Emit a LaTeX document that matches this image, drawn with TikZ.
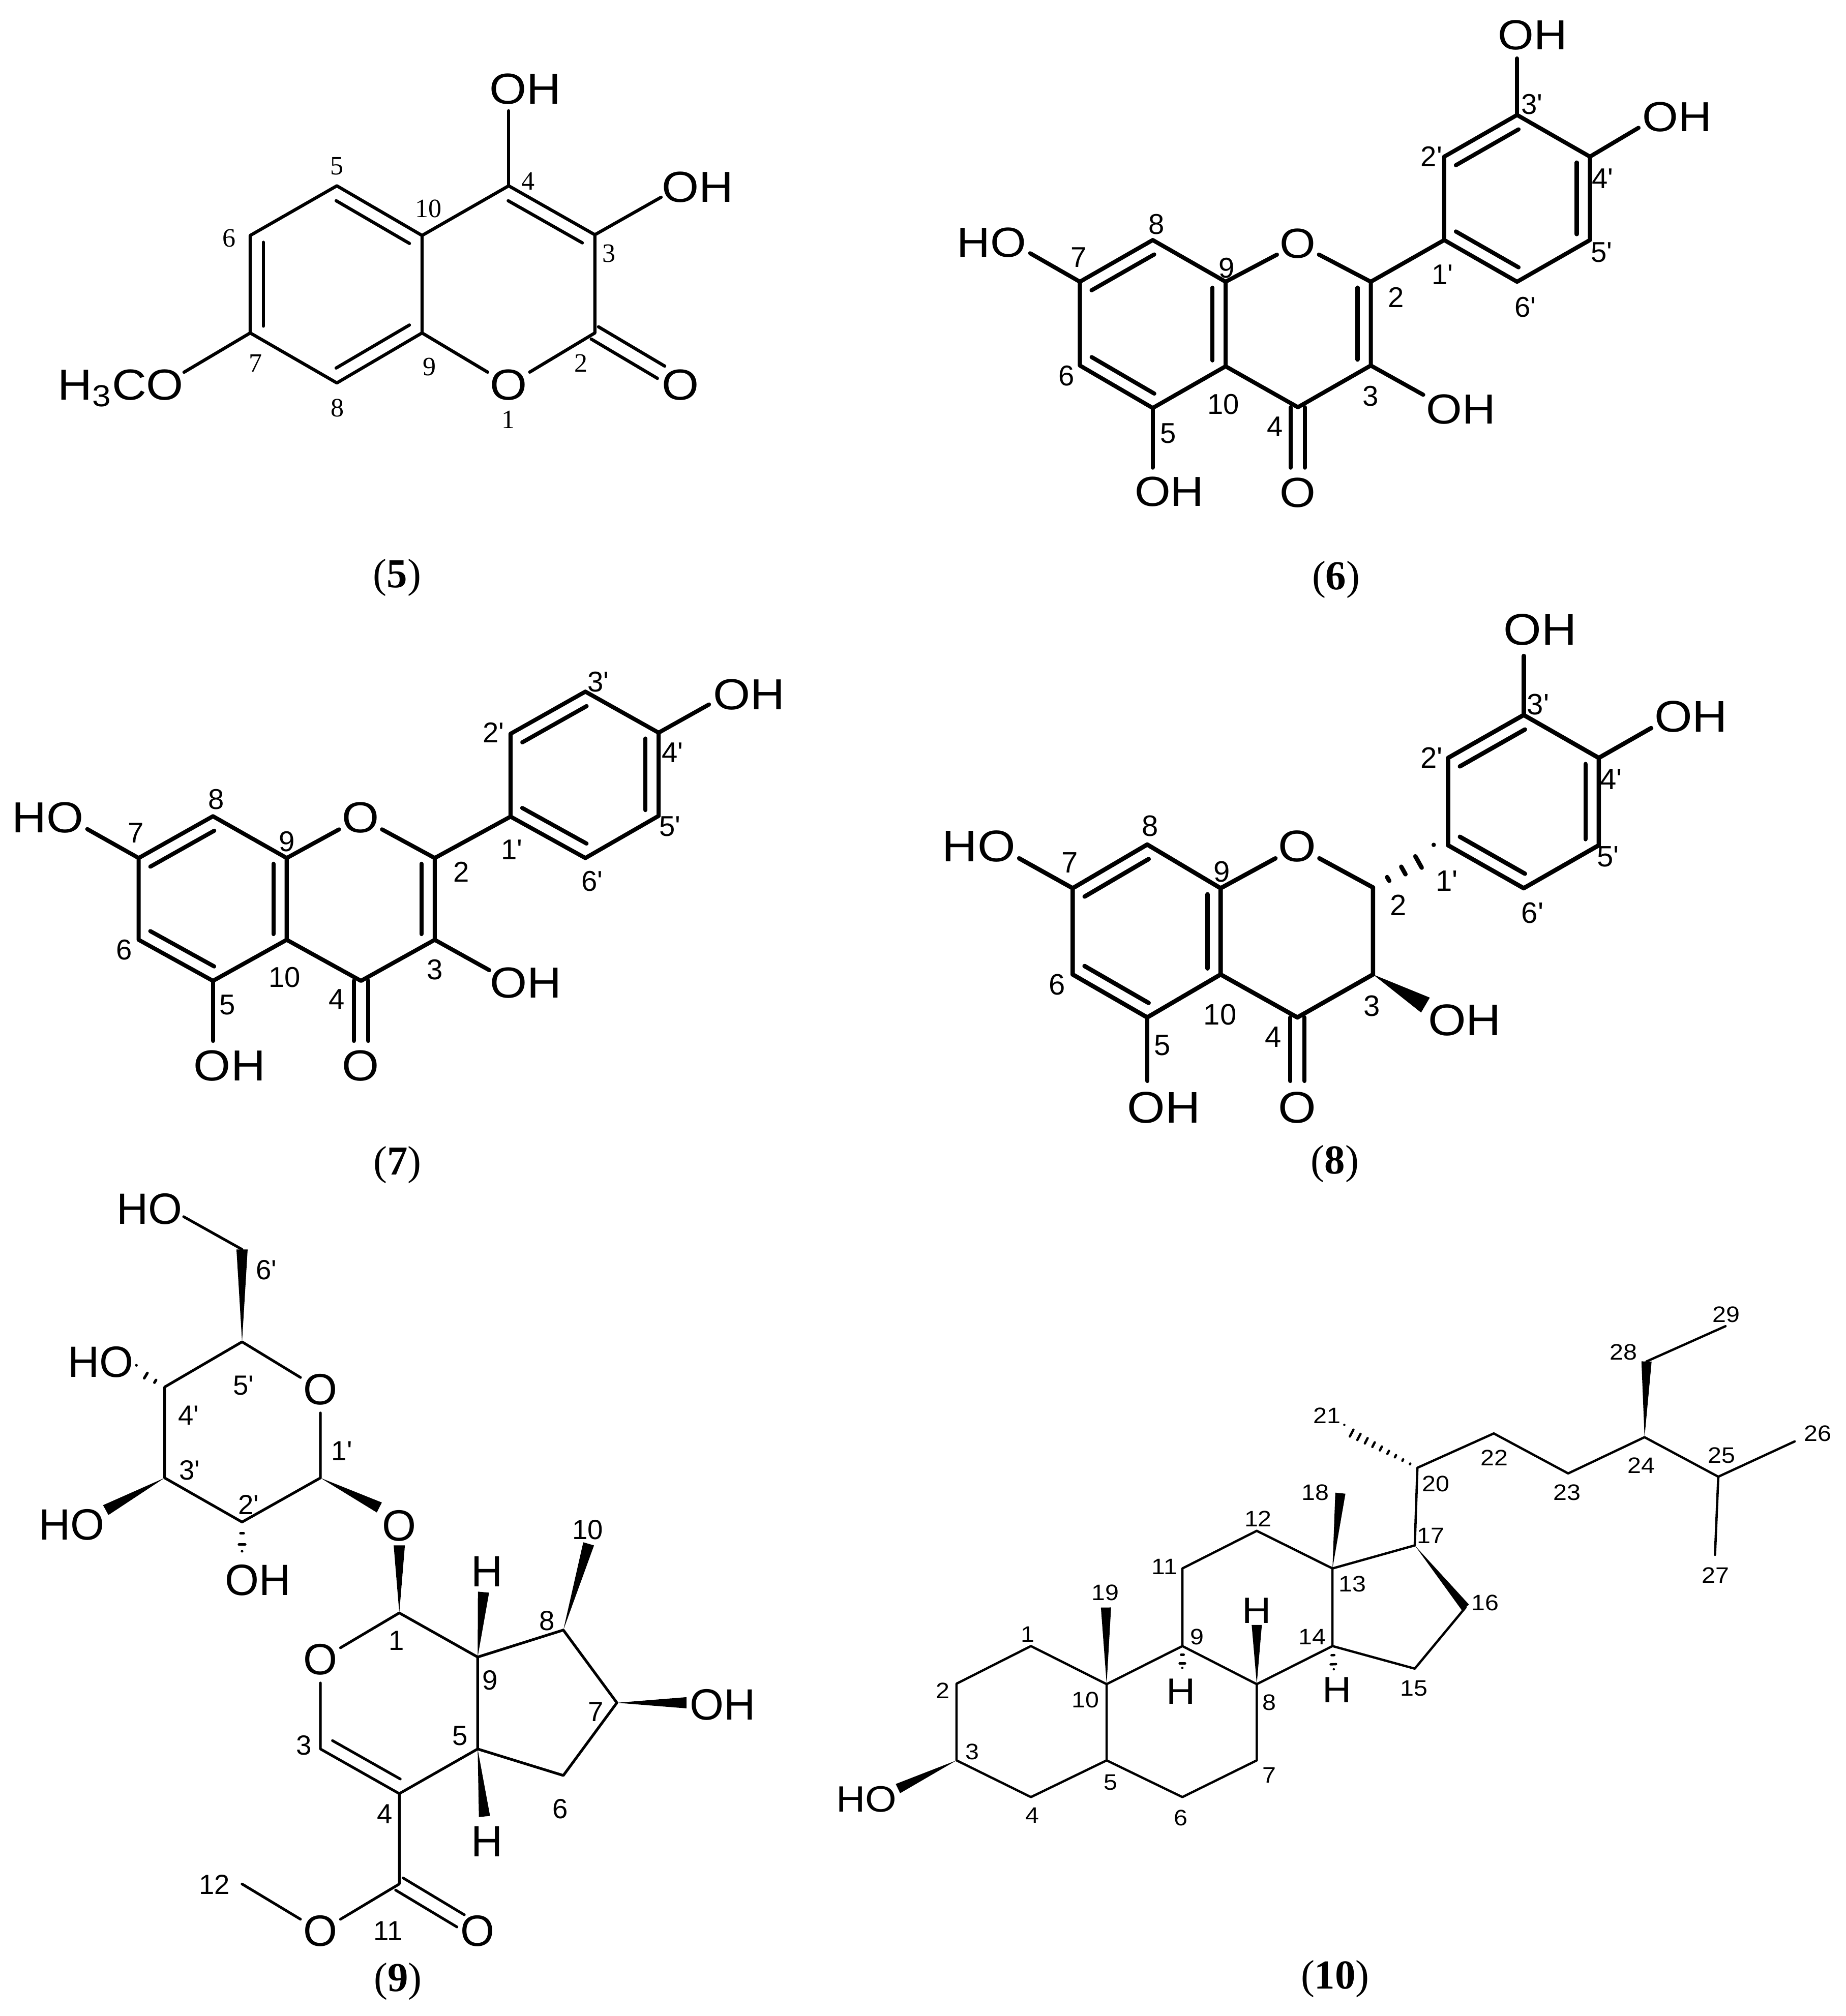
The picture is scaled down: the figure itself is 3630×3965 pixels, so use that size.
\documentclass[tikz,border=0pt]{standalone}
\usepackage{fontspec}
\usetikzlibrary{calc}
\newfontfamily\labelfont{Liberation Sans}
\newfontfamily\widefont[FakeStretch=1.1]{Liberation Sans}
\newfontfamily\capfont{Liberation Serif}
\tikzset{
    bond/.style={line width=2.3pt, line cap=round, line join=round, draw=black},
    atomtxt/.style={inner sep=0pt, font=\widefont\fontsize{24.3}{24.3}\selectfont},
    ringO/.style={atomtxt, circle},
    num/.style={inner sep=0pt, font=\labelfont\fontsize{16}{16}\selectfont},
    captxt/.style={inner sep=0pt, font=\capfont\fontsize{23}{23}\selectfont},
}
% second line of a double bond, on the left of the way from #1 to #2
\newcommand{\innerbond}[2]{\draw[bond] ($(#1)!0.07!(#2)!0.26cm!90:(#2)$) -- ($(#2)!0.07!(#1)!0.26cm!-90:(#1)$);}
% free standing double bond, centred on the way from #1 to #2
\newcommand{\dblbond}[2]{
    \draw[bond] ($(#1)!0.14cm!90:(#2)$) -- ($(#2)!0.14cm!-90:(#1)$);
    \draw[bond] ($(#1)!0.14cm!-90:(#2)$) -- ($(#2)!0.14cm!90:(#1)$);
}
\newcommand{\wedgebond}[3][0.11cm]{\fill ($(#3)!#1!90:(#2)$) -- (#2) -- ($(#3)!#1!-90:(#2)$) -- cycle;}
\newcommand{\hashbond}[4][0.13cm]{
    \foreach \k in {1,...,#4} {
        \pgfmathsetmacro{\hfrac}{\k/#4}
        \draw[bond] ($(#2)!\hfrac!(#3)!\hfrac*#1!90:(#3)$) -- ($(#2)!\hfrac!(#3)!\hfrac*#1!-90:(#3)$);
    }
}
\begin{document}
\begin{tikzpicture}[x=0.01cm, y=-0.01cm]
    \useasboundingbox (0,0) rectangle (3630,3965);

    % coumarin
    \begin{scope}[shift={(0,100)}, x=0.009566cm, y=-0.007015cm, name prefix=five-,
        bond/.append style={line width=1.8pt},
        num/.append style={font=\capfont\fontsize{14.8}{14.8}\selectfont}]
        \coordinate (a2) at (1222,790); \coordinate (a3) at (1222,515); \coordinate (a4) at (1045,378);
        \coordinate (a5) at (692,378); \coordinate (a6) at (514,517); \coordinate (a7) at (514,790);
        \coordinate (a8) at (692,930); \coordinate (a9) at (867,790); \coordinate (a10) at (867,517);
        \coordinate (e3) at (1358,410); \coordinate (e4) at (1045,168); \coordinate (e7) at (378,900);
        \coordinate (c2) at (1358,900);
        \node[ringO] (o1) at (1045,935) {O};
        \node[atomtxt] (oh3) at (1433,382) {OH};
        \node[atomtxt] (oh4) at (1079,107) {OH};
        \node[atomtxt] (ome) at (248,945) {H\textsubscript{3}CO};
        \node[atomtxt] (o2) at (1398,935) {O};

        \draw[bond] (a9) -- (o1) -- (a2) -- (a3) -- (a4) -- (a10) -- (a9) -- (a8) -- (a7) -- (a6) -- (a5) -- (a10);
        \draw[bond] (a4) -- (e4);
        \draw[bond] (a3) -- (e3);
        \draw[bond] (a7) -- (e7);
        \dblbond{a2}{c2}
        \innerbond{a6}{a7}
        \innerbond{a8}{a9}
        \innerbond{a10}{a5}
        \innerbond{a3}{a4}

        \node[num] (l1) at (1044,1033) {1};
        \node[num] (l2) at (1194,875) {2};
        \node[num] (l3) at (1251,568) {3};
        \node[num] (l4) at (1085,365) {4};
        \node[num] (l5) at (692,323) {5};
        \node[num] (l6) at (471,525) {6};
        \node[num] (l7) at (525,875) {7};
        \node[num] (l8) at (693,1000) {8};
        \node[num] (l9) at (882,885) {9};
        \node[num] (l10) at (880,442) {10};
        \node[captxt] (cap) at (816,1475) {(\textbf{5})};
    \end{scope}

    % quercetin
    \begin{scope}[shift={(1800,0)}, x=0.010842cm, y=-0.007653cm, name prefix=six-,
        atomtxt/.append style={font=\widefont\fontsize{23.5}{23.5}\selectfont}]
        \coordinate (a2) at (825,723); \coordinate (a3) at (825,938); \coordinate (a4) at (693,1045);
        \coordinate (a5) at (430,1047); \coordinate (a6) at (298,938); \coordinate (a7) at (298,723);
        \coordinate (a8) at (430,616); \coordinate (a9) at (562,723); \coordinate (a10) at (562,940);
        \coordinate (p1) at (958,616); \coordinate (p2) at (958,402); \coordinate (p3) at (1090,295);
        \coordinate (p4) at (1222,402); \coordinate (p5) at (1222,616); \coordinate (p6) at (1090,723);
        \coordinate (e3) at (920,1013); \coordinate (e5) at (430,1200); \coordinate (e7) at (208,650);
        \coordinate (ep3) at (1090,150); \coordinate (ep4) at (1310,328); \coordinate (c4) at (693,1200);
        \node[ringO] (o1) at (693,625) {O};
        \node[atomtxt] (ho7) at (138,622) {HO};
        \node[atomtxt] (oh5) at (460,1262) {OH};
        \node[atomtxt] (o4) at (693,1265) {O};
        \node[atomtxt] (oh3) at (988,1050) {OH};
        \node[atomtxt] (ohp3) at (1118,90) {OH};
        \node[atomtxt] (ohp4) at (1380,300) {OH};

        \draw[bond] (a9) -- (o1) -- (a2) -- (a3) -- (a4) -- (a10) -- (a9) -- (a8) -- (a7) -- (a6) -- (a5) -- (a10);
        \draw[bond] (a2) -- (p1) -- (p2) -- (p3) -- (p4) -- (p5) -- (p6) -- (p1);
        \draw[bond] (a7) -- (e7);
        \draw[bond] (a3) -- (e3);
        \draw[bond] (a5) -- (e5);
        \draw[bond] (p3) -- (ep3);
        \draw[bond] (p4) -- (ep4);
        \dblbond{a4}{c4}
        \innerbond{a8}{a7}
        \innerbond{a6}{a5}
        \innerbond{a10}{a9}
        \innerbond{a3}{a2}
        \innerbond{p3}{p2}
        \innerbond{p1}{p6}
        \innerbond{p5}{p4}

        \node[num] (l2) at (871,763) {2};
        \node[num] (l3) at (825,1017) {3};
        \node[num] (l4) at (651,1095) {4};
        \node[num] (l5) at (458,1112) {5};
        \node[num] (l6) at (274,965) {6};
        \node[num] (l7) at (296,660) {7};
        \node[num] (l8) at (437,576) {8};
        \node[num] (l9) at (564,688) {9};
        \node[num] (l10) at (558,1037) {10};
        \node[num] (lp1) at (955,705) {1'};
        \node[num] (lp2) at (935,402) {2'};
        \node[num] (lp3) at (1117,268) {3'};
        \node[num] (lp4) at (1245,458) {4'};
        \node[num] (lp5) at (1243,648) {5'};
        \node[num] (lp6) at (1105,788) {6'};
        \node[captxt] (cap) at (762,1487) {(\textbf{6})};
    \end{scope}

    % kaempferol
    \begin{scope}[shift={(0,1250)}, x=0.010204cm, y=-0.007015cm, name prefix=seven-]
        \coordinate (a2) at (837,623); \coordinate (a3) at (837,852); \coordinate (a4) at (695,967);
        \coordinate (a5) at (410,967); \coordinate (a6) at (267,852); \coordinate (a7) at (267,623);
        \coordinate (a8) at (410,506); \coordinate (a9) at (552,623); \coordinate (a10) at (552,852);
        \coordinate (p1) at (983,507); \coordinate (p2) at (983,275); \coordinate (p3) at (1127,157);
        \coordinate (p4) at (1268,272); \coordinate (p5) at (1268,505); \coordinate (p6) at (1127,623);
        \coordinate (e3) at (942,937); \coordinate (e5) at (410,1135); \coordinate (e7) at (168,542);
        \coordinate (ep4) at (1365,193); \coordinate (c4) at (695,1135);
        \node[ringO] (o1) at (694,510) {O};
        \node[atomtxt] (ho7) at (92,510) {HO};
        \node[atomtxt] (oh5) at (442,1205) {OH};
        \node[atomtxt] (o4) at (694,1205) {O};
        \node[atomtxt] (oh3) at (1012,972) {OH};
        \node[atomtxt] (ohp4) at (1442,165) {OH};

        \draw[bond] (a9) -- (o1) -- (a2) -- (a3) -- (a4) -- (a10) -- (a9) -- (a8) -- (a7) -- (a6) -- (a5) -- (a10);
        \draw[bond] (a2) -- (p1) -- (p2) -- (p3) -- (p4) -- (p5) -- (p6) -- (p1);
        \draw[bond] (a7) -- (e7);
        \draw[bond] (a3) -- (e3);
        \draw[bond] (a5) -- (e5);
        \draw[bond] (p4) -- (ep4);
        \dblbond{a4}{c4}
        \innerbond{a8}{a7}
        \innerbond{a6}{a5}
        \innerbond{a10}{a9}
        \innerbond{a3}{a2}
        \innerbond{p3}{p2}
        \innerbond{p1}{p6}
        \innerbond{p5}{p4}

        \node[num] (l2) at (888,662) {2};
        \node[num] (l3) at (837,935) {3};
        \node[num] (l4) at (648,1018) {4};
        \node[num] (l5) at (438,1035) {5};
        \node[num] (l6) at (239,880) {6};
        \node[num] (l7) at (262,552) {7};
        \node[num] (l8) at (416,458) {8};
        \node[num] (l9) at (552,577) {9};
        \node[num] (l10) at (548,957) {10};
        \node[num] (lp1) at (985,600) {1'};
        \node[num] (lp2) at (950,272) {2'};
        \node[num] (lp3) at (1152,130) {3'};
        \node[num] (lp4) at (1295,328) {4'};
        \node[num] (lp5) at (1290,535) {5'};
        \node[num] (lp6) at (1140,688) {6'};
        \node[captxt] (cap) at (765,1483) {(\textbf{7})};
    \end{scope}

    % taxifolin
    \begin{scope}[shift={(1800,1180)}, x=0.010842cm, y=-0.007334cm, name prefix=eight-,
        bond/.append style={line width=2.45pt},
        atomtxt/.append style={font=\widefont\fontsize{24.8}{24.8}\selectfont},
        num/.append style={font=\labelfont\fontsize{16.5}{16.5}\selectfont}]
        \coordinate (a2) at (829,770); \coordinate (a3) at (829,1003); \coordinate (a4) at (692,1118);
        \coordinate (a5) at (420,1118); \coordinate (a6) at (285,1003); \coordinate (a7) at (285,772);
        \coordinate (a8) at (420,655); \coordinate (a9) at (553,772); \coordinate (a10) at (553,1003);
        \coordinate (p1) at (965,657); \coordinate (p2) at (965,423); \coordinate (p3) at (1102,308);
        \coordinate (p4) at (1238,423); \coordinate (p5) at (1238,657); \coordinate (p6) at (1102,772);
        \coordinate (e5) at (420,1288); \coordinate (e7) at (188,692); \coordinate (w3) at (924,1085);
        \coordinate (h2) at (939,679); \coordinate (ep3) at (1102,150); \coordinate (ep4) at (1333,343);
        \coordinate (c4) at (692,1288);
        \node[ringO] (o1) at (692,660) {O};
        \node[atomtxt] (ho7) at (115,660) {HO};
        \node[atomtxt] (oh5) at (450,1360) {OH};
        \node[atomtxt] (o4) at (692,1360) {O};
        \node[atomtxt] (oh3) at (995,1125) {OH};
        \node[atomtxt] (ohp3) at (1132,80) {OH};
        \node[atomtxt] (ohp4) at (1405,312) {OH};

        \draw[bond] (a9) -- (o1) -- (a2) -- (a3) -- (a4) -- (a10) -- (a9) -- (a8) -- (a7) -- (a6) -- (a5) -- (a10);
        \draw[bond] (p1) -- (p2) -- (p3) -- (p4) -- (p5) -- (p6) -- (p1);
        \draw[bond] (a7) -- (e7);
        \draw[bond] (a5) -- (e5);
        \draw[bond] (p3) -- (ep3);
        \draw[bond] (p4) -- (ep4);
        \dblbond{a4}{c4}
        \wedgebond[0.17cm]{a3}{w3}
        \hashbond[0.17cm]{a2}{h2}{4}
        \innerbond{a8}{a7}
        \innerbond{a6}{a5}
        \innerbond{a10}{a9}
        \innerbond{p3}{p2}
        \innerbond{p1}{p6}
        \innerbond{p5}{p4}

        \node[num] (l2) at (875,818) {2};
        \node[num] (l3) at (827,1088) {3};
        \node[num] (l4) at (648,1170) {4};
        \node[num] (l5) at (447,1192) {5};
        \node[num] (l6) at (257,1030) {6};
        \node[num] (l7) at (280,703) {7};
        \node[num] (l8) at (425,605) {8};
        \node[num] (l9) at (555,728) {9};
        \node[num] (l10) at (552,1110) {10};
        \node[num] (lp1) at (963,752) {1'};
        \node[num] (lp2) at (935,423) {2'};
        \node[num] (lp3) at (1128,280) {3'};
        \node[num] (lp4) at (1260,480) {4'};
        \node[num] (lp5) at (1255,688) {5'};
        \node[num] (lp6) at (1118,838) {6'};
        \node[captxt] (cap) at (760,1510) {(\textbf{8})};
    \end{scope}

    % iridoid glucoside
    \begin{scope}[shift={(50,2350)}, x=0.009566cm, y=-0.010204cm, name prefix=nine-,
        bond/.append style={line width=1.5pt},
        atomtxt/.append style={font=\labelfont\fontsize{24.5}{24.5}\selectfont},
        num/.append style={font=\labelfont\fontsize{15.5}{15.5}\selectfont}]
        \coordinate (p1) at (606,545); \coordinate (p2) at (445,630); \coordinate (p3) at (286,545);
        \coordinate (p4) at (286,370); \coordinate (p5) at (445,283); \coordinate (p6) at (445,105);
        \coordinate (a1) at (768,805); \coordinate (a3) at (606,1067); \coordinate (a4) at (768,1153);
        \coordinate (a5) at (929,1067); \coordinate (a6) at (1105,1118); \coordinate (a7) at (1215,978);
        \coordinate (a8) at (1105,838); \coordinate (a9) at (929,890); \coordinate (a11) at (768,1327);
        \coordinate (a10) at (1157,672); \coordinate (a12) at (445,1327); \coordinate (c11) at (894,1398);
        \coordinate (e6) at (325,42); \coordinate (w1) at (727,602); \coordinate (w3) at (165,607);
        \coordinate (wo) at (768,675); \coordinate (w7) at (1358,978); \coordinate (w9) at (941,765);
        \coordinate (w5) at (943,1197); \coordinate (h2) at (445,695); \coordinate (h4) at (228,337);
        \node[atomtxt] (ho6) at (255,27) {HO};
        \node[atomtxt] (ho4) at (155,322) {HO};
        \node[atomtxt] (ho3) at (95,635) {HO};
        \node[atomtxt] (oh2) at (478,742) {OH};
        \node[ringO] (op) at (606,375) {O};
        \node[atomtxt] (ol) at (768,637) {O};
        \node[ringO] (o2) at (606,895) {O};
        \node[atomtxt] (h9) at (948,725) {H};
        \node[atomtxt] (h5) at (948,1245) {H};
        \node[atomtxt] (oh7) at (1432,982) {OH};
        \node[ringO] (ome) at (606,1418) {O};
        \node[atomtxt] (oco) at (929,1418) {O};

        \draw[bond] (e6) -- (p6);
        \draw[bond] (op) -- (p5) -- (p4) -- (p3) -- (p2) -- (p1) -- (op);
        \draw[bond] (o2) -- (a1) -- (a9) -- (a5) -- (a4) -- (a3) -- (o2);
        \draw[bond] (a9) -- (a8) -- (a7) -- (a6) -- (a5);
        \draw[bond] (a4) -- (a11) -- (ome) -- (a12);
        \dblbond{a11}{c11}
        \innerbond{a3}{a4}
        \wedgebond{p5}{p6}
        \wedgebond{p3}{w3}
        \wedgebond{p1}{w1}
        \wedgebond{a1}{wo}
        \wedgebond{a9}{w9}
        \wedgebond{a5}{w5}
        \wedgebond{a8}{a10}
        \wedgebond{a7}{w7}
        \hashbond[0.09cm]{p2}{h2}{3}
        \hashbond[0.09cm]{p4}{h4}{3}

        \node[num] (l1) at (762,858) {1};
        \node[num] (l3) at (572,1060) {3};
        \node[num] (l4) at (738,1192) {4};
        \node[num] (l5) at (893,1042) {5};
        \node[num] (l6) at (1099,1182) {6};
        \node[num] (l7) at (1172,995) {7};
        \node[num] (l8) at (1071,820) {8};
        \node[num] (l9) at (954,935) {9};
        \node[num] (l10) at (1155,645) {10};
        \node[num] (l11) at (745,1417) {11};
        \node[num] (l12) at (388,1328) {12};
        \node[num] (lp1) at (650,493) {1'};
        \node[num] (lp2) at (458,597) {2'};
        \node[num] (lp3) at (337,530) {3'};
        \node[num] (lp4) at (335,425) {4'};
        \node[num] (lp5) at (448,367) {5'};
        \node[num] (lp6) at (495,145) {6'};
        \node[captxt] (cap) at (765,1515) {(\textbf{9})};
    \end{scope}

    % sitosterol
    \begin{scope}[shift={(1600,2500)}, x=0.012946cm, y=-0.009247cm, name prefix=ten-,
        bond/.append style={line width=1.3pt},
        atomtxt/.append style={font=\widefont\fontsize{20.5}{20.5}\selectfont},
        num/.append style={font=\widefont\fontsize{12.5}{12.5}\selectfont}]
        \coordinate (a1) at (330,797); \coordinate (a2) at (217,877); \coordinate (a3) at (217,1040);
        \coordinate (a4) at (330,1118); \coordinate (a5) at (445,1040); \coordinate (a6) at (560,1118);
        \coordinate (a7) at (673,1040); \coordinate (a8) at (673,878); \coordinate (a9) at (560,797);
        \coordinate (a10) at (445,878); \coordinate (a11) at (560,632); \coordinate (a12) at (673,552);
        \coordinate (a13) at (788,632); \coordinate (a14) at (788,797); \coordinate (a15) at (913,845);
        \coordinate (a16) at (990,715); \coordinate (a17) at (913,583); \coordinate (a18) at (800,472);
        \coordinate (a19) at (444,715); \coordinate (a20) at (917,418); \coordinate (a21) at (806,336);
        \coordinate (a22) at (1033,345); \coordinate (a23) at (1146,430); \coordinate (a24) at (1262,353);
        \coordinate (a25) at (1374,437); \coordinate (a26) at (1490,362); \coordinate (a27) at (1369,603);
        \coordinate (a28) at (1265,192); \coordinate (a29) at (1385,117);
        \coordinate (w3) at (128,1100); \coordinate (w8) at (673,752); \coordinate (h9) at (560,852);
        \coordinate (h14) at (790,855);
        \node[atomtxt] (ho3) at (80,1123) {HO};
        \node[atomtxt] (lh8) at (673,722) {H};
        \node[atomtxt] (lh9) at (558,893) {H};
        \node[atomtxt] (lh14) at (795,890) {H};

        \draw[bond] (a10) -- (a1) -- (a2) -- (a3) -- (a4) -- (a5) -- (a10) -- (a9) -- (a8) -- (a7) -- (a6) -- (a5);
        \draw[bond] (a9) -- (a11) -- (a12) -- (a13) -- (a14) -- (a8);
        \draw[bond] (a13) -- (a17) -- (a20) -- (a22) -- (a23) -- (a24) -- (a25) -- (a26);
        \draw[bond] (a14) -- (a15) -- (a16);
        \draw[bond] (a25) -- (a27);
        \draw[bond] (a28) -- (a29);
        \wedgebond[0.1cm]{a3}{w3}
        \wedgebond[0.1cm]{a10}{a19}
        \wedgebond[0.1cm]{a8}{w8}
        \wedgebond[0.1cm]{a13}{a18}
        \wedgebond[0.09cm]{a17}{a16}
        \wedgebond[0.1cm]{a24}{a28}
        \hashbond[0.08cm]{a9}{h9}{3}
        \hashbond[0.08cm]{a14}{h14}{3}
        \hashbond[0.085cm]{a20}{a21}{10}

        \node[num] (l1) at (325,772) {1};
        \node[num] (l2) at (196,892) {2};
        \node[num] (l3) at (241,1022) {3};
        \node[num] (l4) at (332,1157) {4};
        \node[num] (l5) at (451,1087) {5};
        \node[num] (l6) at (558,1162) {6};
        \node[num] (l7) at (692,1072) {7};
        \node[num] (l8) at (692,917) {8};
        \node[num] (l9) at (582,778) {9};
        \node[num] (l10) at (413,912) {10};
        \node[num] (l11) at (533,628) {11};
        \node[num] (l12) at (675,527) {12};
        \node[num] (l13) at (818,665) {13};
        \node[num] (l14) at (757,777) {14};
        \node[num] (l15) at (912,887) {15};
        \node[num] (l16) at (1020,705) {16};
        \node[num] (l17) at (937,562) {17};
        \node[num] (l18) at (762,470) {18};
        \node[num] (l19) at (443,683) {19};
        \node[num] (l20) at (945,452) {20};
        \node[num] (l21) at (780,307) {21};
        \node[num] (l22) at (1034,397) {22};
        \node[num] (l23) at (1144,470) {23};
        \node[num] (l24) at (1257,413) {24};
        \node[num] (l25) at (1379,392) {25};
        \node[num] (l26) at (1525,345) {26};
        \node[num] (l27) at (1370,647) {27};
        \node[num] (l28) at (1230,172) {28};
        \node[num] (l29) at (1386,92) {29};
        \node[captxt] (cap) at (792,1505) {(\textbf{10})};
    \end{scope}
\end{tikzpicture}
\end{document}
